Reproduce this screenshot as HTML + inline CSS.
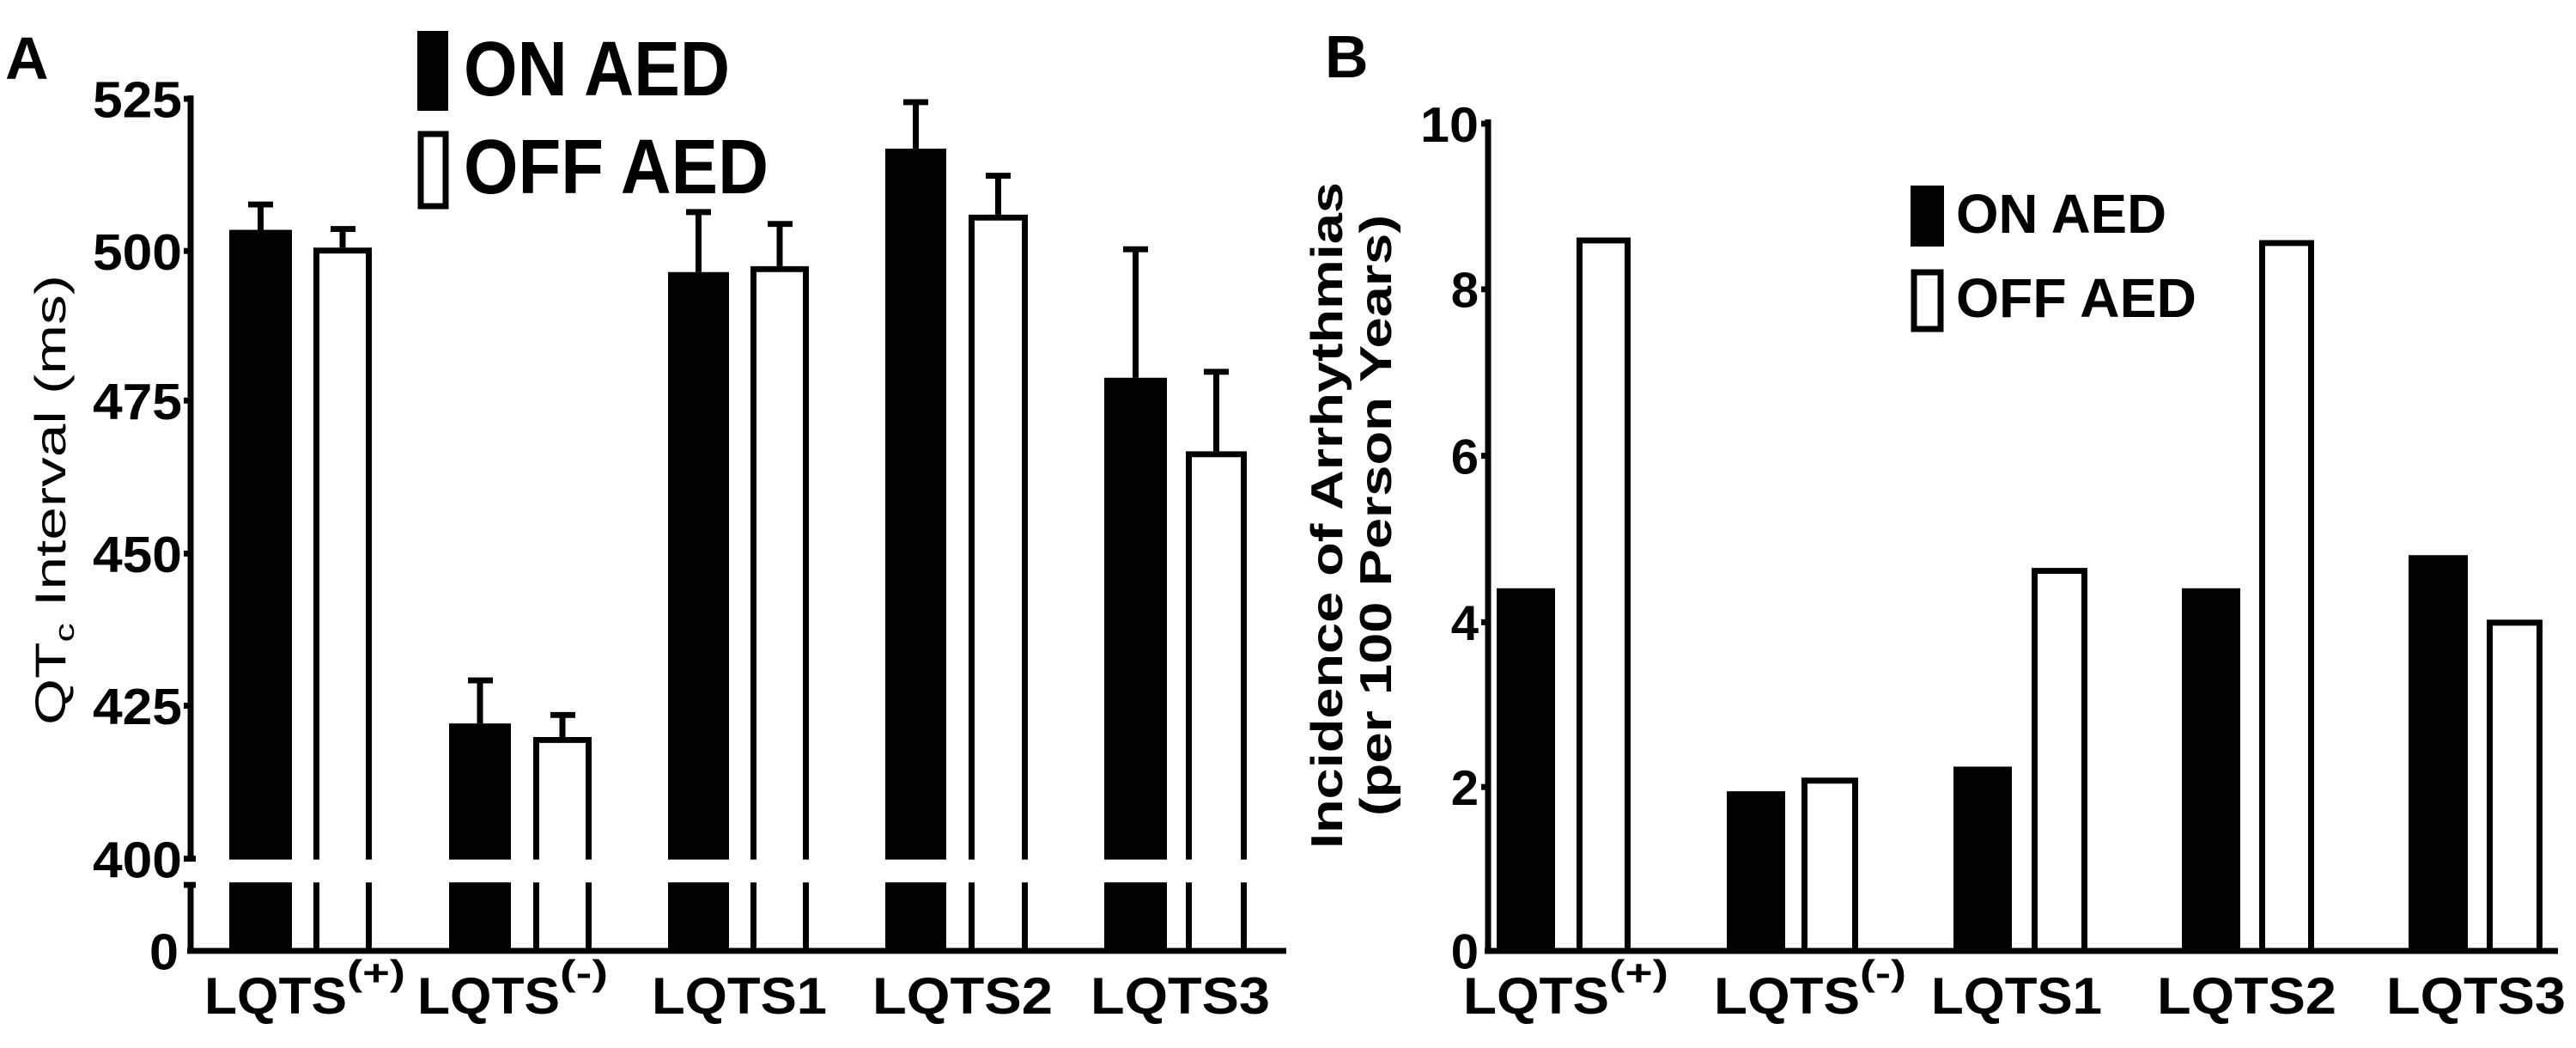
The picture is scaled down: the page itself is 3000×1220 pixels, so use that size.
<!DOCTYPE html>
<html><head><meta charset="utf-8"><style>
html,body{margin:0;padding:0;background:#fff;}
svg{display:block;}
text{font-family:"Liberation Sans Narrow","Liberation Sans",sans-serif;font-weight:bold;fill:#000;}
.w{font-family:"Liberation Sans",sans-serif;}
</style></head><body>
<svg width="3000" height="1220" viewBox="0 0 3000 1220" xmlns="http://www.w3.org/2000/svg">
<rect width="3000" height="1220" fill="#fff"/>
<!-- Panel A -->
<text class="w" x="6" y="92" font-size="70">A</text>
<g transform="matrix(1 0 0 0.984 0 5.8)">
<g stroke="#000" stroke-width="7" fill="none">
  <line x1="222" y1="107" x2="222" y2="1013"/>
  <line x1="222" y1="1038" x2="222" y2="1122"/>
  <line x1="218" y1="1119" x2="1498" y2="1119"/>
  <line x1="214" y1="111" x2="222" y2="111"/>
  <line x1="214" y1="291" x2="222" y2="291"/>
  <line x1="214" y1="468" x2="222" y2="468"/>
  <line x1="214" y1="649" x2="222" y2="649"/>
  <line x1="214" y1="829" x2="222" y2="829"/>
  <line x1="214" y1="1010" x2="228" y2="1010"/>
  <line x1="214" y1="1041" x2="228" y2="1041"/>
</g>
<g font-size="60" text-anchor="end">
  <text x="212" y="133" textLength="104" lengthAdjust="spacingAndGlyphs">525</text>
  <text x="212" y="313" textLength="104" lengthAdjust="spacingAndGlyphs">500</text>
  <text x="212" y="490" textLength="104" lengthAdjust="spacingAndGlyphs">475</text>
  <text x="212" y="671" textLength="104" lengthAdjust="spacingAndGlyphs">450</text>
  <text x="212" y="851" textLength="104" lengthAdjust="spacingAndGlyphs">425</text>
  <text x="212" y="1032" textLength="104" lengthAdjust="spacingAndGlyphs">400</text>
  <text x="208" y="1141" textLength="34" lengthAdjust="spacingAndGlyphs">0</text>
</g>
<!-- bars A -->
<g fill="#000">
  <rect x="267" y="266" width="73" height="745"/><rect x="267" y="1038" width="73" height="81"/>
  <rect x="523" y="850" width="72" height="161"/><rect x="523" y="1038" width="72" height="81"/>
  <rect x="778" y="316" width="71" height="695"/><rect x="778" y="1038" width="71" height="81"/>
  <rect x="1031" y="170" width="71" height="841"/><rect x="1031" y="1038" width="71" height="81"/>
  <rect x="1286" y="441" width="73" height="570"/><rect x="1286" y="1038" width="73" height="81"/>
</g>
<g stroke="#000" stroke-width="7" fill="none">
  <path d="M368.5 1011 V290.5 H429.5 V1011 M368.5 1038 V1119 M429.5 1038 V1119"/>
  <path d="M624.5 1011 V869.5 H685.5 V1011 M624.5 1038 V1119 M685.5 1038 V1119"/>
  <path d="M877.5 1011 V312.5 H938.5 V1011 M877.5 1038 V1119 M938.5 1038 V1119"/>
  <path d="M1131.5 1011 V251.5 H1193.5 V1011 M1131.5 1038 V1119 M1193.5 1038 V1119"/>
  <path d="M1384.5 1011 V531.5 H1448.5 V1011 M1384.5 1038 V1119 M1448.5 1038 V1119"/>
  <path d="M303.5 266 V236 M289 236 H318"/>
  <path d="M399 287 V265 M385 265 H414"/>
  <path d="M559 850 V799 M545 799 H574"/>
  <path d="M655 866 V840 M641 840 H670"/>
  <path d="M813.5 316 V245 M799 245 H828"/>
  <path d="M908 309 V259 M894 259 H923"/>
  <path d="M1066.5 170 V115 M1052 115 H1081"/>
  <path d="M1162.5 248 V202 M1148 202 H1177"/>
  <path d="M1322.5 441 V289 M1308 289 H1337"/>
  <path d="M1416.5 528 V434 M1402 434 H1431"/>
</g>
</g>
<text class="w" transform="translate(76,582) rotate(-90)" font-size="50" text-anchor="middle" style="font-weight:normal" textLength="524" lengthAdjust="spacingAndGlyphs">QT<tspan font-size="32" dy="10">c</tspan><tspan dy="-10"> Interval (ms)</tspan></text>
<!-- legend A -->
<rect x="486" y="36" width="36" height="93" fill="#000"/>
<rect x="490" y="156" width="29" height="84" fill="#fff" stroke="#000" stroke-width="7"/>
<text x="540" y="111" font-size="90" textLength="310" lengthAdjust="spacingAndGlyphs">ON AED</text>
<text x="540" y="225" font-size="90" textLength="355" lengthAdjust="spacingAndGlyphs">OFF AED</text>
<g font-size="60">
  <text x="238" y="1180" textLength="166" lengthAdjust="spacingAndGlyphs">LQTS</text>
  <text x="404" y="1147" font-size="42" textLength="68" lengthAdjust="spacingAndGlyphs">(+)</text>
  <text x="486" y="1180" textLength="166" lengthAdjust="spacingAndGlyphs">LQTS</text>
  <text x="652" y="1147" font-size="42" textLength="56" lengthAdjust="spacingAndGlyphs">(-)</text>
  <text x="759" y="1180" textLength="204" lengthAdjust="spacingAndGlyphs">LQTS1</text>
  <text x="1016" y="1180" textLength="210" lengthAdjust="spacingAndGlyphs">LQTS2</text>
  <text x="1270" y="1180" textLength="209" lengthAdjust="spacingAndGlyphs">LQTS3</text>
</g>
<!-- Panel B -->
<text class="w" x="1543" y="90" font-size="70">B</text>
<g transform="matrix(1 0 0 0.9887 0 0.64)">
<g stroke="#000" stroke-width="7" fill="none">
  <line x1="1733" y1="140" x2="1733" y2="1122"/>
  <line x1="1729" y1="1119" x2="2979" y2="1119"/>
  <line x1="1725" y1="145" x2="1733" y2="145"/>
  <line x1="1725" y1="340" x2="1733" y2="340"/>
  <line x1="1725" y1="536" x2="1733" y2="536"/>
  <line x1="1725" y1="732" x2="1733" y2="732"/>
  <line x1="1725" y1="926" x2="1733" y2="926"/>
</g>
<g font-size="58" text-anchor="end">
  <text x="1722" y="166" textLength="68" lengthAdjust="spacingAndGlyphs">10</text>
  <text x="1722" y="361">8</text>
  <text x="1722" y="557">6</text>
  <text x="1722" y="753">4</text>
  <text x="1722" y="947">2</text>
  <text x="1722" y="1140">0</text>
</g>
<g fill="#000">
  <rect x="1743" y="692" width="68" height="427"/>
  <rect x="2011" y="931" width="68" height="188"/>
  <rect x="2275" y="902" width="68" height="217"/>
  <rect x="2541" y="692" width="68" height="427"/>
  <rect x="2805" y="653" width="69" height="466"/>
</g>
<g stroke="#000" stroke-width="7" fill="none">
  <path d="M1839.5 1119 V282.5 H1895.5 V1119"/>
  <path d="M2101.5 1119 V918.5 H2160.5 V1119"/>
  <path d="M2369.5 1119 V671.5 H2427.5 V1119"/>
  <path d="M2634.5 1119 V285.5 H2691.5 V1119"/>
  <path d="M2899.5 1119 V732.5 H2957.5 V1119"/>
</g>
</g>
<text class="w" transform="translate(1563,600) rotate(-90)" font-size="52" text-anchor="middle" textLength="776" lengthAdjust="spacingAndGlyphs">Incidence of Arrhythmias</text>
<text class="w" transform="translate(1620,600) rotate(-90)" font-size="52" text-anchor="middle" textLength="700" lengthAdjust="spacingAndGlyphs">(per 100 Person Years)</text>
<rect x="2225" y="216" width="39" height="71" fill="#000"/>
<rect x="2229" y="317" width="31" height="66" fill="#fff" stroke="#000" stroke-width="7"/>
<text x="2278" y="271" font-size="64" textLength="245" lengthAdjust="spacingAndGlyphs">ON AED</text>
<text x="2278" y="369" font-size="64" textLength="280" lengthAdjust="spacingAndGlyphs">OFF AED</text>
<g font-size="60">
  <text x="1704" y="1180" textLength="170" lengthAdjust="spacingAndGlyphs">LQTS</text>
  <text x="1874" y="1147" font-size="42" textLength="69" lengthAdjust="spacingAndGlyphs">(+)</text>
  <text x="1996" y="1180" textLength="170" lengthAdjust="spacingAndGlyphs">LQTS</text>
  <text x="2166" y="1147" font-size="42" textLength="54" lengthAdjust="spacingAndGlyphs">(-)</text>
  <text x="2249" y="1180" textLength="199" lengthAdjust="spacingAndGlyphs">LQTS1</text>
  <text x="2512" y="1180" textLength="209" lengthAdjust="spacingAndGlyphs">LQTS2</text>
  <text x="2779" y="1180" textLength="209" lengthAdjust="spacingAndGlyphs">LQTS3</text>
</g>
</svg>
</body></html>
